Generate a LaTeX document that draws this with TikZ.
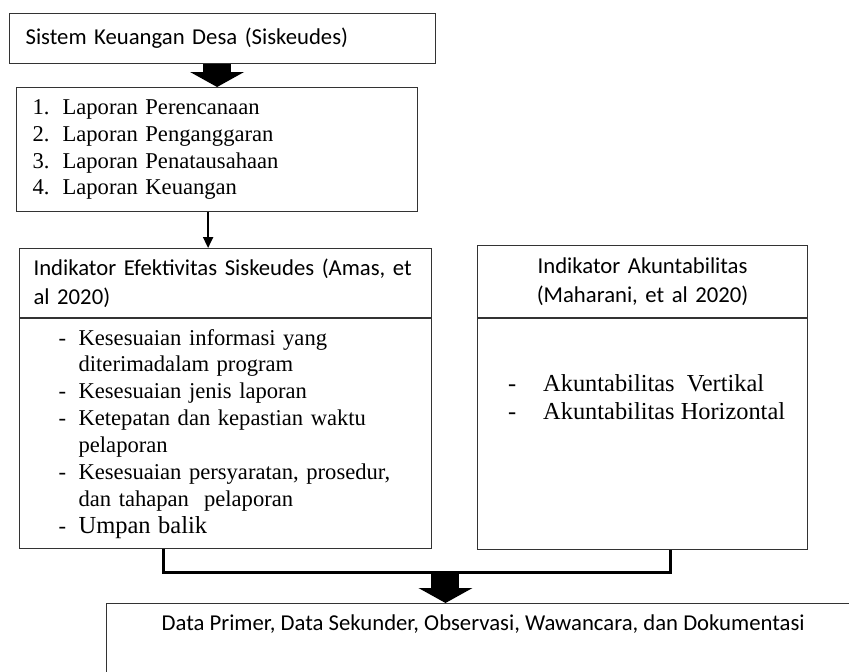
\documentclass[tikz,border=0pt]{standalone}
\usepackage{fontspec}
\setmainfont{Liberation Serif}
\newfontfamily\sansfam{Carlito}
\usetikzlibrary{arrows.meta,calc,positioning}
\tikzset{
  kotak/.style={draw=black!80, line width=1.2pt, anchor=north west,
    inner ysep=0pt, align=left},
  huruf sans/.style={font=\sansfam\fontsize{22.7}{28.7}\selectfont},
  huruf serif/.style={font=\fontsize{22.6}{26.9}\selectfont},
  huruf besar/.style={font=\fontsize{24.4}{28}\selectfont},
  blokpanah/.style={line width=28pt,
    -{Triangle[width=54pt,length=15pt,line width=0pt]}},
  panah/.style={line width=2pt, -{Triangle[width=10pt,length=11pt]}},
  kurung/.style={line width=3pt, line join=miter},
}
\newcommand{\butir}[1]{\mbox{\makebox[20pt][l]{-}#1}}
\newcommand{\lanjut}[1]{\mbox{\hspace*{20pt}#1}}
\newcommand{\nomor}[2]{\mbox{\makebox[30pt][l]{#1.}#2}}

\begin{document}
\begin{tikzpicture}[x=1pt,y=-1pt]
  \useasboundingbox (0,0) rectangle (849,672);
  \clip (0,0) rectangle (849,672);

  % kotak atas
  \node[kotak, huruf sans, text width=394pt, inner xsep=16pt,
    minimum height=50pt] (sistem) at (9,13)
    {Sistem Keuangan Desa (Siskeudes)};
  \node[kotak, huruf serif, text width=369pt, inner xsep=16pt,
    minimum height=124pt] (laporan) at (16,87)
    {\nomor{1}{Laporan Perencanaan}\\
     \nomor{2}{Laporan Penganggaran}\\
     \nomor{3}{Laporan Penatausahaan}\\
     \nomor{4}{Laporan Keuangan}};

  % indikator efektivitas
  \node[kotak, huruf sans, text width=384pt, inner xsep=14pt,
    minimum height=69pt] (efkepala) at (19,248)
    {Indikator Efektivitas Siskeudes (Amas, et\\ al 2020)};
  \node[kotak, huruf serif, text width=334pt, inner xsep=39pt,
    minimum height=230pt] (efisi) at (efkepala.south west)
    {\butir{Kesesuaian informasi yang}\\
     \lanjut{diterimadalam program}\\
     \butir{Kesesuaian jenis laporan}\\
     \butir{Ketepatan dan kepastian waktu}\\
     \lanjut{pelaporan}\\
     \butir{Kesesuaian persyaratan, prosedur,}\\
     \lanjut{dan tahapan\ \ pelaporan}\\
     \butir{{\fontsize{24.5}{26.9}\selectfont Umpan balik}}};

  % indikator akuntabilitas
  \node[kotak, huruf sans, text width=300pt, inner xsep=15pt, align=center,
    minimum height=72pt] (akkepala) at (477,245)
    {Indikator Akuntabilitas\\ (Maharani, et al 2020)};
  \node[kotak, minimum width=330pt, minimum height=231pt] (akisi)
    at (akkepala.south west) {};
  \node[huruf besar, anchor=west, align=left, inner sep=0pt] (aklist)
    at ([xshift=31pt,yshift=-79pt]akisi.north west)
    {\makebox[35pt][l]{-}Akuntabilitas\ \ Vertikal\\
     \makebox[35pt][l]{-}Akuntabilitas Horizontal};

  % kotak bawah
  \node[kotak, minimum width=753pt, minimum height=100pt] (data)
    at (106,603) {};
  \node[huruf sans, inner sep=0pt] (datateks) at ([yshift=-21pt]data.north)
    {Data Primer, Data Sekunder, Observasi, Wawancara, dan Dokumentasi};

  % panah
  \draw[blokpanah] (laporan.north |- sistem.south) -- (laporan.north);
  \draw[panah] ([xshift=-9pt]laporan.south)
    -- ([xshift=-9pt]laporan.south |- efkepala.north);
  \draw[kurung] ([xshift=-62pt]efisi.south) -- ++(0,23) coordinate (kiri)
    -| ([xshift=28pt]akisi.south) coordinate[pos=0.5] (kanan);
  \coordinate (tengah) at ($(kiri)!0.556!(kanan)$);
  \draw[blokpanah] (tengah) -- (tengah |- data.north);
\end{tikzpicture}
\end{document}
